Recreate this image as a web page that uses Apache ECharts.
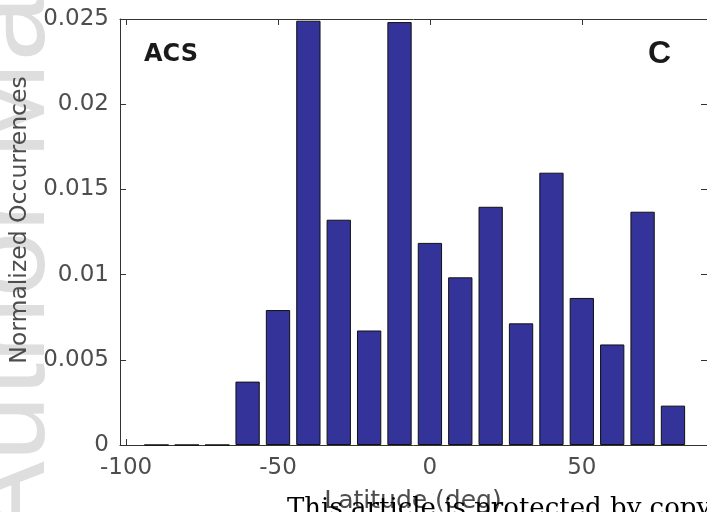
<!DOCTYPE html>
<html>
<head>
<meta charset="utf-8">
<script src="https://cdn.jsdelivr.net/npm/echarts@6/dist/echarts.min.js"></script>
<style>html,body{margin:0;padding:0;background:#fff}#c{width:707px;height:512px}</style>
</head>
<body>
<div id="c"></div>
<script>
// Data
const latitudes = [-90, -80, -70, -60, -50, -40, -30, -20, -10, 0, 10, 20, 30, 40, 50, 60, 70, 80];
const occurrences = [0, 0, 0, 0.00372, 0.00792, 0.0249, 0.01322, 0.00672, 0.02482, 0.01186, 0.00984, 0.01398, 0.00714, 0.01598, 0.00863, 0.0059, 0.01369, 0.00231];
const xTicks = [-100, -50, 0, 50];
const yTicks = [0, 0.005, 0.01, 0.015, 0.02, 0.025];

const chart = echarts.init(document.getElementById('c'), null, {renderer: 'canvas'});
const axisCol = '#333333';
const labelCol = '#4d4d4d';
const font = '"DejaVu Sans", "Liberation Sans", Arial, sans-serif';

const xBase = {
  type: 'value', min: -102, max: 91.2,
  axisLine: {show: true, onZero: false, lineStyle: {color: axisCol, width: 1}},
  axisTick: {show: true, inside: true, length: 6, customValues: xTicks, lineStyle: {color: axisCol}},
  splitLine: {show: false}
};
const yBase = {
  type: 'value', min: 0, max: 0.025, interval: 0.005,
  axisLine: {show: true, onZero: false, lineStyle: {color: axisCol, width: 1}},
  axisTick: {show: true, inside: true, length: 6, customValues: yTicks, lineStyle: {color: axisCol}},
  splitLine: {show: false}
};

chart.setOption({
  animation: false,
  backgroundColor: '#ffffff',
  grid: {left: 120, top: 19, right: 0, bottom: 67, containLabel: false},
  xAxis: [
    Object.assign({}, xBase, {position: 'bottom',
      axisLabel: {show: true, customValues: xTicks, color: labelCol, fontSize: 23, fontFamily: font, margin: 12}}),
    Object.assign({}, xBase, {position: 'top', axisLabel: {show: false}})
  ],
  yAxis: [
    Object.assign({}, yBase, {position: 'left',
      axisLabel: {show: true, customValues: yTicks, color: labelCol, fontSize: 23, fontFamily: font, margin: 11}}),
    Object.assign({}, yBase, {position: 'right', axisLabel: {show: false}})
  ],
  series: [{
    type: 'bar',
    xAxisIndex: 0, yAxisIndex: 0,
    data: latitudes.map((x, i) => [x, occurrences[i]]),
    barWidth: '80%',
    itemStyle: {color: '#333399', borderColor: '#111111', borderWidth: 1},
    z: 2
  }],
  graphic: [
    {type: 'text', z: -100, x: 70, y: 540, rotation: Math.PI / 2,
      style: {text: 'Author Manuscript', font: '118px "Liberation Sans", Arial, sans-serif', fill: '#dedede', textAlign: 'left', textVerticalAlign: 'bottom'}},
    {type: 'text', x: 20, y: 220, rotation: Math.PI / 2,
      style: {text: 'Normalized Occurrences', font: '23.5px ' + font, fill: labelCol, textAlign: 'center', textVerticalAlign: 'middle'}},
    {type: 'text', x: 413, y: 489,
      style: {text: 'Latitude (deg)', font: '25px ' + font, fill: labelCol, textAlign: 'center', textVerticalAlign: 'top'}},
    {type: 'text', x: 287, y: 496,
      style: {text: 'This article is protected by copyright. All rights reserved', font: '26px "DejaVu Serif", serif', fill: '#000000', textAlign: 'left', textVerticalAlign: 'top'}},
    {type: 'text', x: 144, y: 43,
      style: {text: 'ACS', font: 'bold 24px ' + font, fill: '#1a1a1a', textAlign: 'left', textVerticalAlign: 'top'}},
    {type: 'text', x: 648, y: 38,
      style: {text: 'C', font: 'bold 32px "Liberation Sans", Arial, sans-serif', fill: '#1a1a1a', textAlign: 'left', textVerticalAlign: 'top'}}
  ]
});
</script>
</body>
</html>
